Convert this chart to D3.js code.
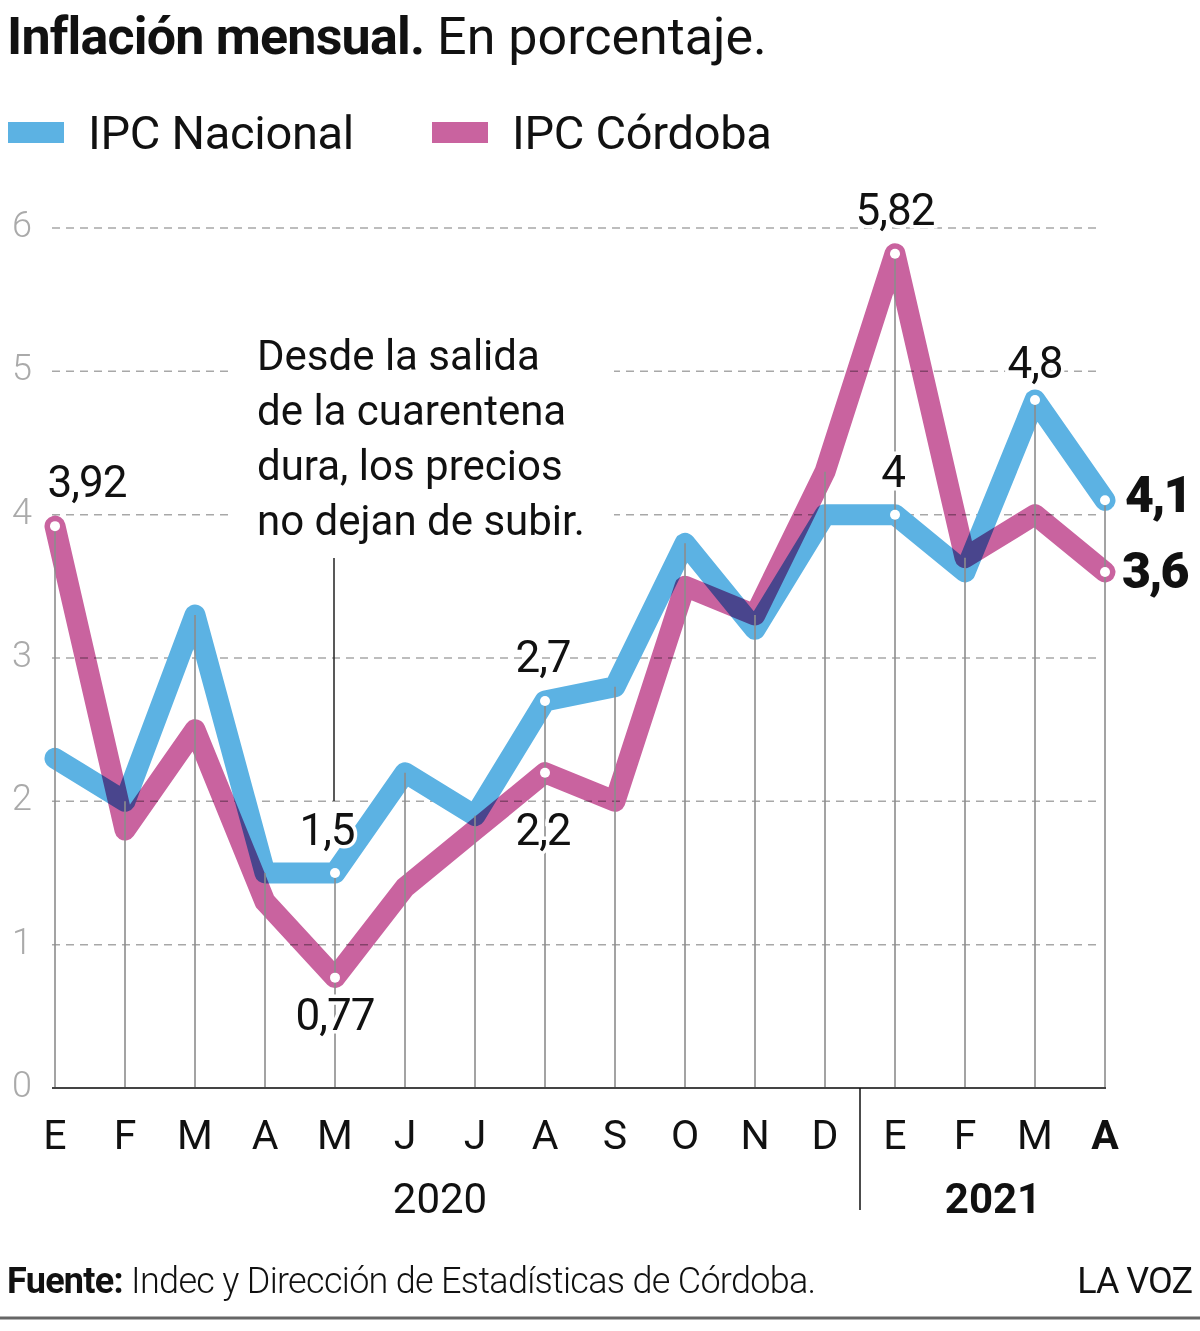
<!DOCTYPE html>
<html>
<head>
<meta charset="utf-8">
<script src="https://cdn.jsdelivr.net/npm/d3@7"></script>
<style>
  body { margin: 0; background: #fff; }
  text { font-family: Roboto, "Noto Sans", sans-serif; }
</style>
</head>
<body>
<script>
// data
var months = ["E", "F", "M", "A", "M", "J", "J", "A", "S", "O", "N", "D", "E", "F", "M", "A"];
var nacional = [2.3, 2.0, 3.3, 1.5, 1.5, 2.2, 1.9, 2.7, 2.8, 3.8, 3.2, 4.0, 4.0, 3.6, 4.8, 4.1];
var cordoba = [3.92, 1.8, 2.5, 1.3, 0.77, 1.4, 1.8, 2.2, 2.0, 3.5, 3.3, 4.3, 5.82, 3.7, 4.0, 3.6];
var yTicks = [0, 1, 2, 3, 4, 5, 6];
var years = [{label: "2020", from: 0, to: 11}, {label: "2021", from: 12, to: 15}];
var seriesNames = ["IPC Nacional", "IPC Córdoba"];

// which points get a dot + value label
var marked = [
  {s: "cba", i: 0, dx: 32, dy: -29},
  {s: "nac", i: 4, dx: -8, dy: -28},
  {s: "cba", i: 4, dx: 0, dy: 52},
  {s: "nac", i: 7, dx: -2, dy: -29},
  {s: "cba", i: 7, dx: -2, dy: 72},
  {s: "cba", i: 12, dx: 0, dy: -29},
  {s: "nac", i: 12, dx: -2, dy: -28},
  {s: "nac", i: 14, dx: 0, dy: -22},
  {s: "nac", i: 15, dx: 20, dy: 12, last: true},
  {s: "cba", i: 15, dx: 17, dy: 16, last: true}
];

var W = 1200, H = 1331;
var blue = "#5cb2e3", pink = "#c9639f";

var svg = d3.select("body").append("svg")
  .attr("width", W)
  .attr("height", H);

var x = d3.scalePoint()
  .domain(d3.range(months.length))
  .range([55, 1105]);

var y = d3.scaleLinear()
  .domain([0, 6])
  .range([1088, 228]);

// title
var title = svg.append("text")
  .attr("x", 7)
  .attr("y", 54)
  .attr("font-size", 52)
  .attr("fill", "#111");
title.append("tspan").attr("font-weight", 700).attr("letter-spacing", -0.8).text("Inflación mensual.");
title.append("tspan").attr("font-weight", 400).attr("letter-spacing", 0).text(" En porcentaje.");

// legend
var legend = svg.selectAll(".legend")
  .data(seriesNames)
  .enter().append("g")
  .attr("class", "legend")
  .attr("transform", function(d, i) { return "translate(" + [8, 432][i] + ",0)"; });
legend.append("rect")
  .attr("y", 122)
  .attr("width", 56)
  .attr("height", 21)
  .attr("fill", function(d, i) { return i ? pink : blue; });
legend.append("text")
  .attr("x", 80)
  .attr("y", 149)
  .attr("font-size", 47)
  .attr("letter-spacing", -0.3)
  .attr("fill", "#111")
  .text(function(d) { return d; });

// grid
svg.append("g")
  .selectAll("line")
  .data(yTicks.filter(function(d) { return d > 0; }))
  .enter().append("line")
  .attr("x1", 52)
  .attr("x2", 1102)
  .attr("y1", function(d) { return y(d); })
  .attr("y2", function(d) { return y(d); })
  .attr("stroke", "#a8a8a8")
  .attr("stroke-width", 1.5)
  .attr("stroke-dasharray", "8,6");

svg.append("g")
  .selectAll("text")
  .data(yTicks)
  .enter().append("text")
  .attr("x", 22)
  .attr("y", function(d) { return y(d) - 4; })
  .attr("dy", "0.36em")
  .attr("text-anchor", "middle")
  .attr("font-size", 36)
  .attr("font-weight", 300)
  .attr("fill", "#aaa")
  .text(function(d) { return d; });

// annotation block (covers the grid behind it)
svg.append("rect")
  .attr("x", 228)
  .attr("y", 330)
  .attr("width", 386)
  .attr("height", 215)
  .attr("fill", "#fff");

var note = ["Desde la salida", "de la cuarentena", "dura, los precios", "no dejan de subir."];
svg.append("g")
  .selectAll("text")
  .data(note)
  .enter().append("text")
  .attr("x", 257)
  .attr("y", function(d, i) { return 370 + i * 55; })
  .attr("font-size", 42)
  .attr("letter-spacing", 0)
  .attr("fill", "#111")
  .text(function(d) { return d; });

// leader line from the note down to the 1,5 label
svg.append("line")
  .attr("x1", x(4) - 1).attr("x2", x(4) - 1)
  .attr("y1", 558).attr("y2", y(nacional[4]) - 72)
  .attr("stroke", "#222")
  .attr("stroke-width", 1.5);

// series
var line = d3.line()
  .x(function(d, i) { return x(i); })
  .y(function(d) { return y(d); });

svg.append("path")
  .datum(nacional)
  .attr("d", line)
  .attr("fill", "none")
  .attr("stroke", blue)
  .attr("stroke-width", 21)
  .attr("stroke-linejoin", "round")
  .attr("stroke-linecap", "round");

svg.append("path")
  .datum(cordoba)
  .attr("d", line)
  .attr("fill", "none")
  .attr("stroke", pink)
  .attr("stroke-width", 21)
  .attr("stroke-linejoin", "round")
  .attr("stroke-linecap", "round")
  .style("mix-blend-mode", "multiply");

// vertical drop lines
svg.append("g")
  .selectAll("line")
  .data(months)
  .enter().append("line")
  .attr("x1", function(d, i) { return x(i); })
  .attr("x2", function(d, i) { return x(i); })
  .attr("y1", y(0))
  .attr("y2", function(d, i) { return y(Math.max(nacional[i], cordoba[i])); })
  .attr("stroke", "#8c8c8c")
  .attr("stroke-width", 1.6);

// baseline
svg.append("line")
  .attr("x1", 52).attr("x2", 1106)
  .attr("y1", y(0)).attr("y2", y(0))
  .attr("stroke", "#444")
  .attr("stroke-width", 2);

// month labels
svg.append("g")
  .selectAll("text")
  .data(months)
  .enter().append("text")
  .attr("x", function(d, i) { return x(i); })
  .attr("y", 1149)
  .attr("text-anchor", "middle")
  .attr("font-size", 41)
  .attr("font-weight", function(d, i) { return i === months.length - 1 ? 700 : 400; })
  .attr("fill", "#111")
  .text(function(d) { return d; });

// year separator + years
svg.append("line")
  .attr("x1", (x(11) + x(12)) / 2).attr("x2", (x(11) + x(12)) / 2)
  .attr("y1", y(0)).attr("y2", 1210)
  .attr("stroke", "#111")
  .attr("stroke-width", 1.5);

svg.append("g")
  .selectAll("text")
  .data(years)
  .enter().append("text")
  .attr("x", function(d, i) { return i ? 993 : 440; })
  .attr("y", 1213)
  .attr("text-anchor", "middle")
  .attr("font-size", 42)
  .attr("font-weight", function(d, i) { return i ? 700 : 400; })
  .attr("fill", "#111")
  .text(function(d) { return d.label; });

// dots and value labels
function val(m) { return m.s === "nac" ? nacional[m.i] : cordoba[m.i]; }

svg.append("g")
  .selectAll("circle")
  .data(marked)
  .enter().append("circle")
  .attr("cx", function(d) { return x(d.i); })
  .attr("cy", function(d) { return y(val(d)); })
  .attr("r", 5)
  .attr("fill", "#fff");

svg.append("g")
  .selectAll("text")
  .data(marked)
  .enter().append("text")
  .attr("x", function(d) { return x(d.i) + d.dx; })
  .attr("y", function(d) { return y(val(d)) + d.dy; })
  .attr("text-anchor", function(d) { return d.last ? "start" : "middle"; })
  .attr("font-size", function(d) { return d.last ? 50 : 44; })
  .attr("font-weight", function(d) { return d.last ? 900 : 400; })
  .attr("letter-spacing", function(d) { return d.last ? -2 : -1; })
  .attr("fill", "#111")
  .attr("stroke", "#fff")
  .attr("stroke-width", 7)
  .attr("paint-order", "stroke")
  .text(function(d) { return String(val(d)).replace(".", ","); });

// footer
var src = svg.append("text")
  .attr("x", 7)
  .attr("y", 1293)
  .attr("font-size", 36)
  .attr("fill", "#111")
  .attr("letter-spacing", -0.7);
src.append("tspan").attr("font-weight", 700).text("Fuente:");
src.append("tspan").attr("font-weight", 300).text(" Indec y Dirección de Estadísticas de Córdoba.");

svg.append("text")
  .attr("x", 1192)
  .attr("y", 1293)
  .attr("text-anchor", "end")
  .attr("font-size", 36)
  .attr("font-weight", 400)
  .attr("letter-spacing", -1)
  .attr("fill", "#111")
  .text("LA VOZ");

svg.append("line")
  .attr("x1", 0).attr("x2", W)
  .attr("y1", 1318).attr("y2", 1318)
  .attr("stroke", "#666")
  .attr("stroke-width", 3);
</script>
</body>
</html>
